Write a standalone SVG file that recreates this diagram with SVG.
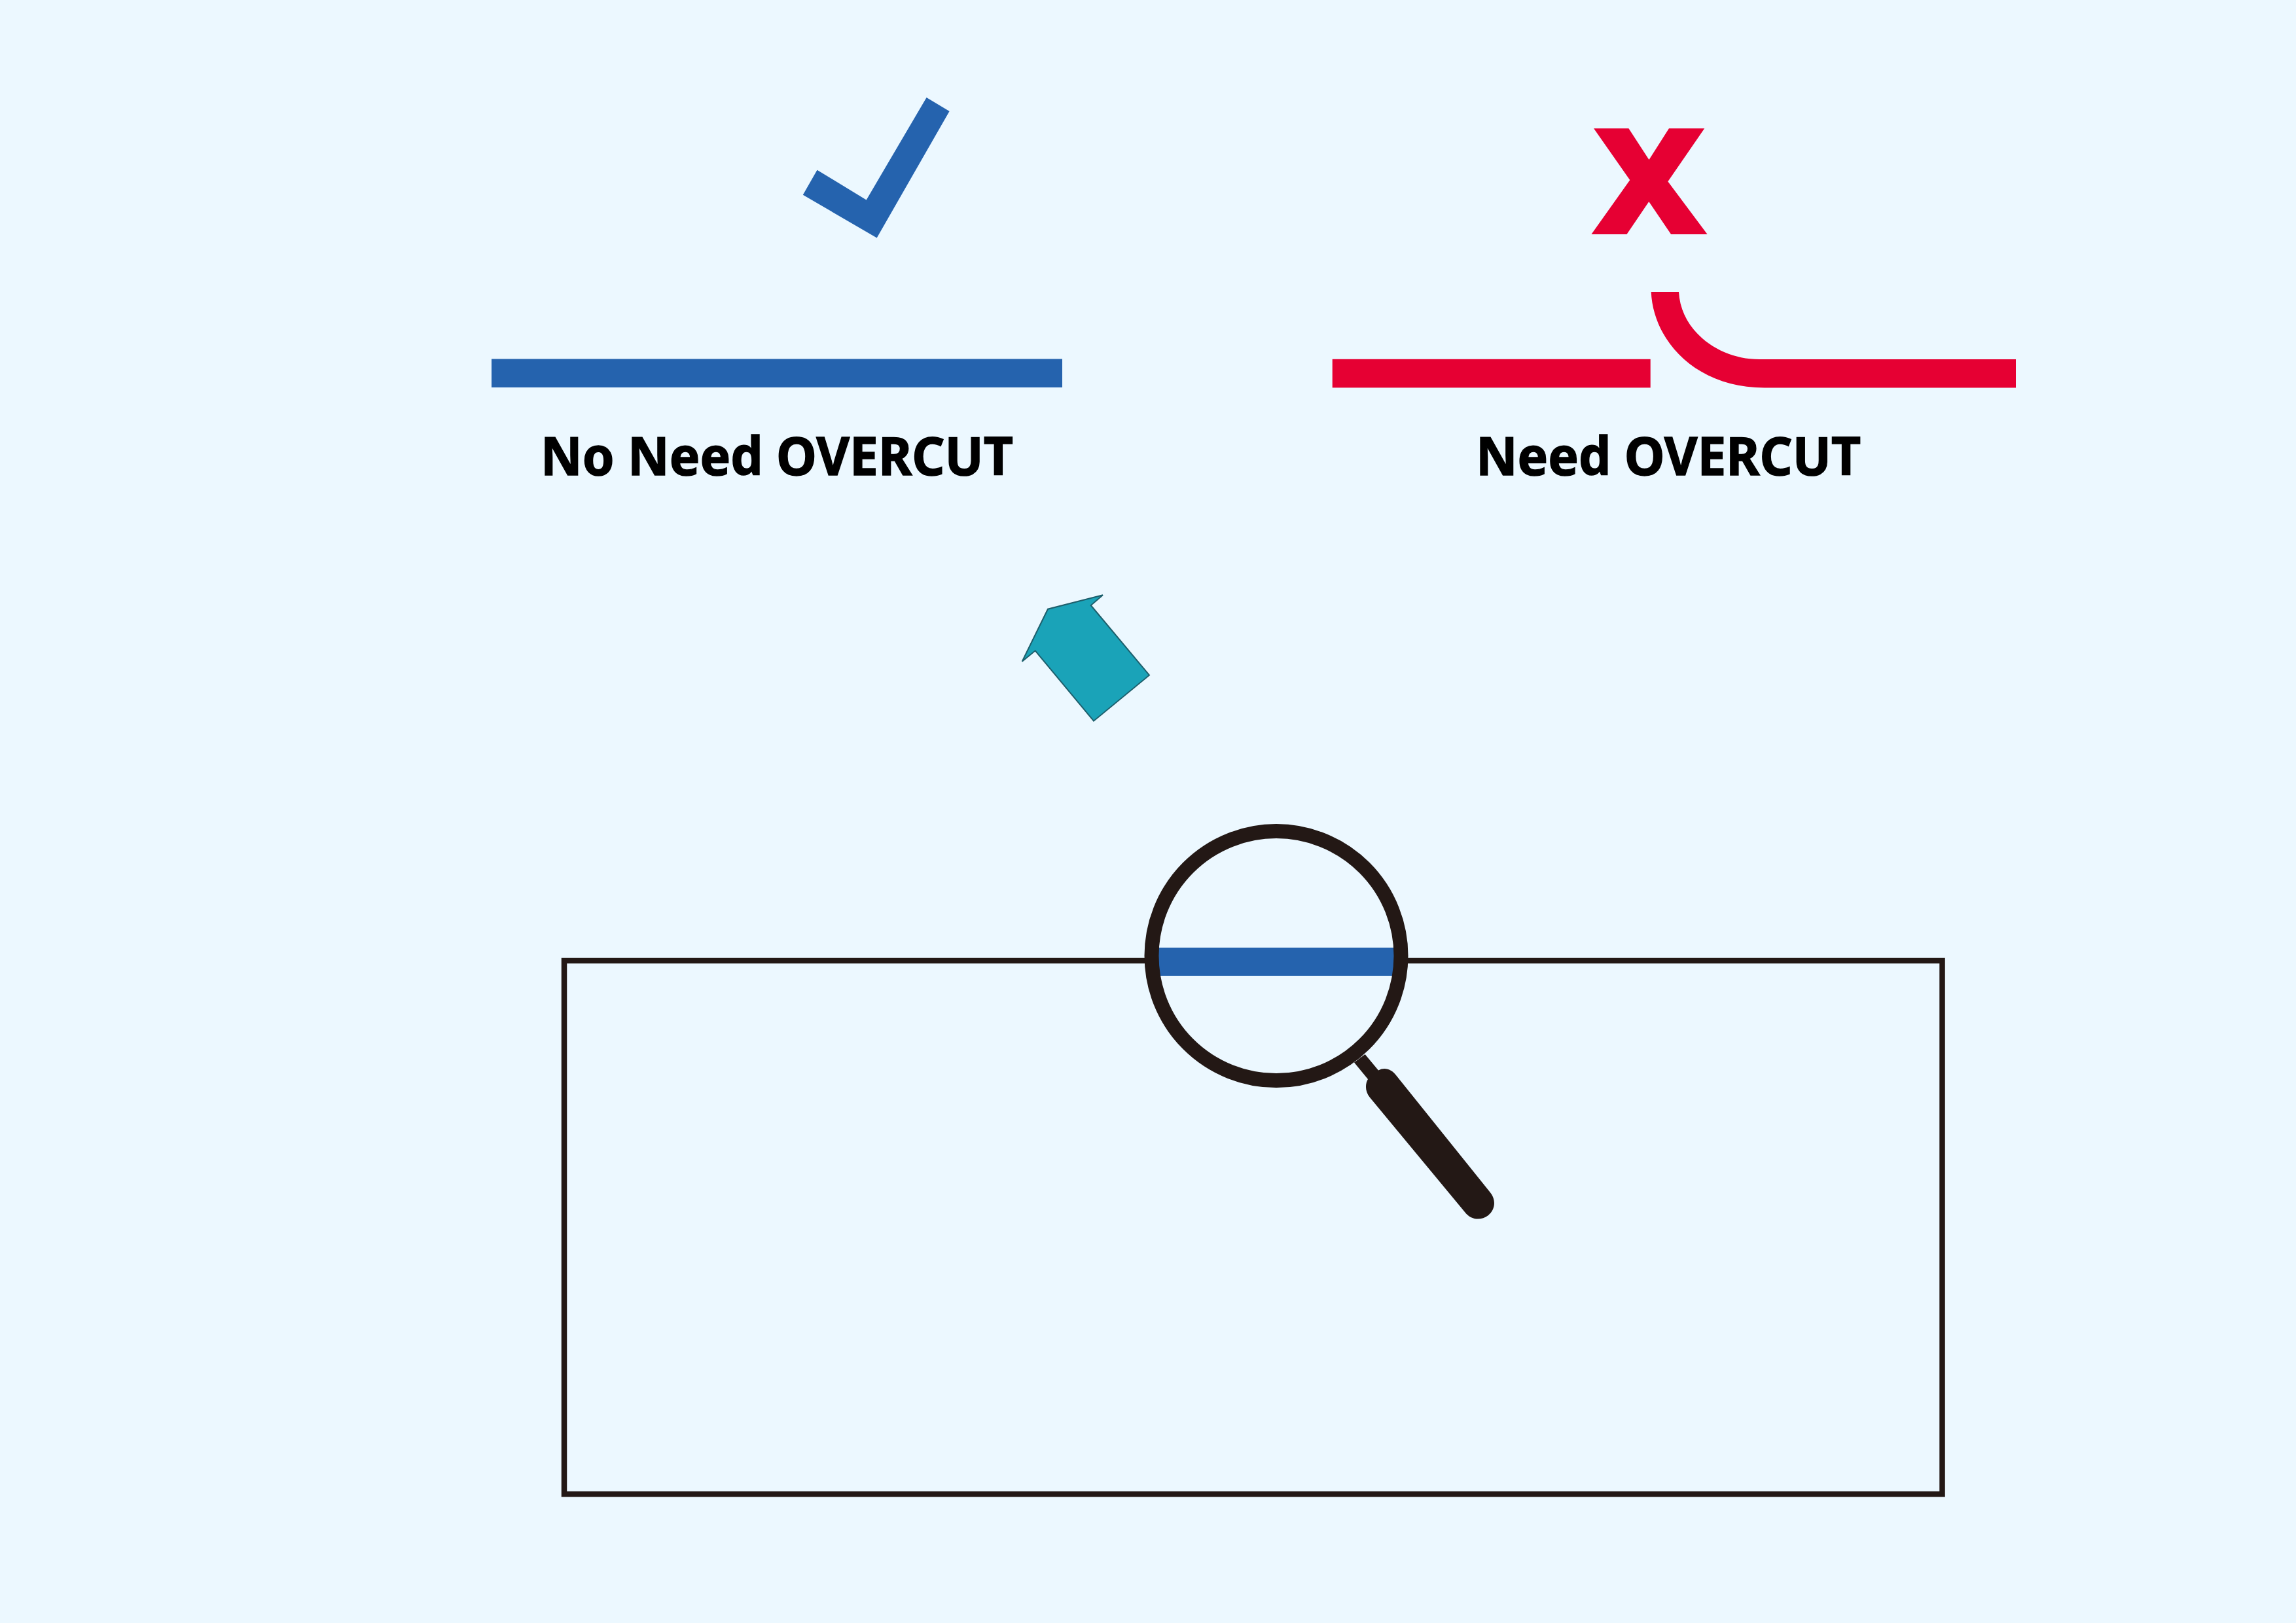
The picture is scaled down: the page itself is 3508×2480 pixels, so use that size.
<svg xmlns="http://www.w3.org/2000/svg" width="3508" height="2480" viewBox="0 0 3508 2480">
<style>
.label{font-family:"Noto Sans","Open Sans","Liberation Sans",sans-serif;font-weight:700;font-size:80px;fill:#000;stroke:#000;stroke-width:1.5}
.blue{fill:#2563ae}
.red{fill:#e60033}
.ink{stroke:#231815;fill:none}
</style>
<rect width="3508" height="2480" fill="#ecf8ff"/>
<g id="ok-case">
<path class="blue" d="M1415.6 149L1450.6 170L1339.7 363.4L1226.8 297.8L1248.5 259.8L1323.7 305.4Z"/>
<rect class="blue" x="751" y="548.5" width="872" height="43.5"/>
<text class="label" x="1187" y="726" text-anchor="middle" textLength="722" lengthAdjust="spacingAndGlyphs">No Need OVERCUT</text>
</g>
<g id="ng-case">
<text x="2520" y="354.7" text-anchor="middle" textLength="166" lengthAdjust="spacingAndGlyphs" style="font-family:'Noto Sans','Open Sans',sans-serif;font-weight:800;font-size:218px;fill:#e60033;stroke:#e60033;stroke-width:6">X</text>
<rect class="red" x="2035.7" y="548.8" width="486" height="43.6"/>
<path class="red" d="M2522.7 446H2565C2568 505 2625 549 2688 549H3080V592.4H2696C2590 592.4 2526 520 2522.7 446Z"/>
<text class="label" x="2549" y="726" text-anchor="middle" textLength="588" lengthAdjust="spacingAndGlyphs">Need OVERCUT</text>
</g>
<g id="arrow">
<path d="M1561.7 1010.7L1581.7 994.3L1671 1101.7L1756 1031.7L1666.7 925L1685 909.3L1601 930.7Z" fill="#1aa3b8" stroke="#1d5f6c" stroke-width="2"/>
</g>
<g id="panel">
<rect class="ink" x="862" y="1468" width="2105.5" height="815" stroke-width="8.5"/>
</g>
<g id="magnifier">
<circle cx="1950" cy="1460.6" r="179" fill="#ecf8ff"/>
<rect class="blue" x="1768" y="1448" width="364" height="43"/>
<circle class="ink" cx="1950" cy="1460.6" r="190.5" stroke-width="22"/>
<path fill="#231815" d="M2069 1623.5L2085.6 1611L2106 1635.5C2116 1630 2126 1634 2133 1643L2276 1821C2287 1834 2284 1849 2274 1857C2262 1866 2247 1864 2238 1852L2093 1677C2085 1667 2086 1656 2090 1649Z"/>
</g>
</svg>
